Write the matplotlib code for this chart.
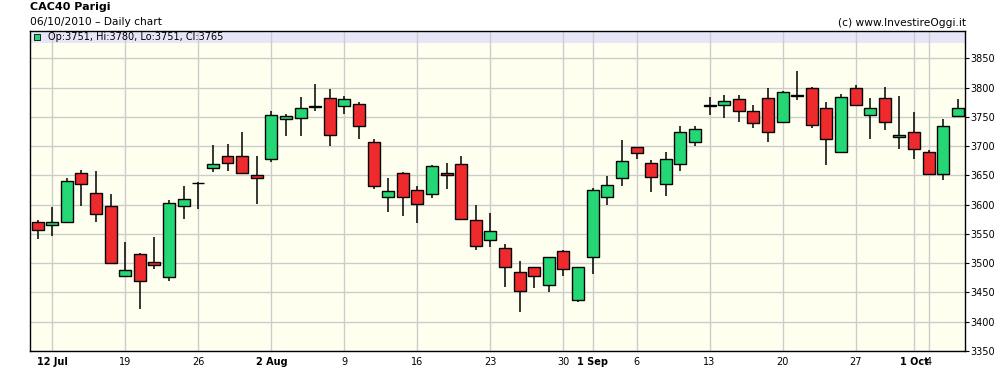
import matplotlib.pyplot as plt
import numpy as np
import pandas as pd

# trading days shown on the chart
dates = pd.bdate_range('2010-07-09', '2010-10-06')

opens = [3570, 3565, 3570, 3655, 3620, 3597, 3478, 3515, 3502, 3476, 3597, 3637,
         3663, 3683, 3683, 3650, 3679, 3747, 3749, 3767, 3783, 3768, 3773, 3708,
         3614, 3654, 3625, 3618, 3654, 3669, 3574, 3539, 3526, 3485, 3493, 3463,
         3521, 3437, 3510, 3613, 3645, 3698, 3672, 3635, 3669, 3707, 3769, 3770,
         3780, 3761, 3782, 3741, 3786, 3800, 3766, 3691, 3800, 3754, 3783, 3715,
         3725, 3691, 3652, 3751]
highs = [3574, 3596, 3645, 3659, 3658, 3618, 3537, 3517, 3545, 3608, 3632, 3639,
         3702, 3704, 3724, 3683, 3760, 3755, 3784, 3806, 3798, 3786, 3776, 3712,
         3646, 3656, 3632, 3668, 3671, 3683, 3600, 3586, 3533, 3504, 3494, 3511,
         3523, 3494, 3628, 3649, 3711, 3699, 3676, 3690, 3734, 3734, 3785, 3787,
         3787, 3770, 3799, 3795, 3828, 3801, 3775, 3790, 3804, 3783, 3802, 3786,
         3758, 3694, 3746, 3780]
lows = [3542, 3547, 3569, 3598, 3571, 3499, 3477, 3421, 3491, 3470, 3576, 3592,
        3656, 3658, 3655, 3602, 3673, 3718, 3718, 3761, 3701, 3755, 3713, 3627,
        3587, 3580, 3569, 3612, 3627, 3574, 3523, 3527, 3460, 3416, 3457, 3451,
        3479, 3434, 3481, 3600, 3632, 3678, 3622, 3615, 3658, 3700, 3754, 3749,
        3741, 3732, 3708, 3740, 3779, 3731, 3668, 3690, 3768, 3713, 3728, 3696,
        3678, 3651, 3642, 3751]
closes = [3557, 3570, 3640, 3635, 3584, 3501, 3488, 3470, 3497, 3603, 3609, 3638,
          3669, 3672, 3655, 3645, 3754, 3751, 3765, 3768, 3719, 3780, 3734, 3632,
          3623, 3613, 3601, 3666, 3650, 3575, 3530, 3555, 3493, 3452, 3478, 3510,
          3490, 3493, 3626, 3633, 3674, 3688, 3647, 3679, 3725, 3729, 3770, 3778,
          3760, 3739, 3725, 3792, 3787, 3737, 3713, 3785, 3770, 3765, 3741, 3719,
          3695, 3652, 3735, 3765]

green = '#24D674'
red = '#EF2A2C'

o = np.array(opens)
c = np.array(closes)
x = np.arange(len(dates))

fig = plt.figure(figsize=(10, 3.86), dpi=100)
ax = fig.add_axes([0.0303, 0.0907, 0.9349, 0.829])
ax.set_facecolor('#FFFFF0')

ax.axhspan(3876, 3900, color='#E6E6F8', zorder=0, lw=0)

ax.vlines(x, lows, highs, color='black', lw=1.1, zorder=2)
cols = [green if cc >= oo else red for oo, cc in zip(o, c)]
ax.bar(x, np.maximum(np.abs(c - o), 0.8), bottom=np.minimum(o, c), width=0.82,
       color=cols, edgecolor='black', linewidth=1.0, zorder=3)

# x ticks: mondays and first day of each month
ticks, labels, bold = [], [], []
seen = set()
for i, d in enumerate(dates):
    if i == 0:
        continue
    if d.weekday() == 0 or d.day == 1:
        ticks.append(i)
        if d.month not in seen:
            labels.append(f"{d.day} {d.strftime('%b')}")
            bold.append(True)
            seen.add(d.month)
        else:
            labels.append(str(d.day))
            bold.append(False)
ax.set_xticks(ticks)
ax.set_xticklabels(labels)
for t, b in zip(ax.get_xticklabels(), bold):
    if b:
        t.set_fontweight('bold')

ax.set_xlim(-0.5, len(dates) - 0.5)
ax.set_ylim(3350, 3897)
ax.set_yticks(np.arange(3350, 3851, 50))
ax.yaxis.tick_right()
ax.tick_params(axis='y', direction='out', length=3, labelsize=7, pad=1)
ax.tick_params(axis='x', length=0, labelsize=7, pad=4)
ax.grid(color='#CCCCCC', lw=1, zorder=1)
ax.set_axisbelow(True)
for s in ax.spines.values():
    s.set_linewidth(1)

ax.plot([0.007], [0.9797], marker='s', ms=4, mfc=green, mec='black', mew=0.6,
        transform=ax.transAxes, clip_on=False, zorder=5)
ax.text(0.0186, 0.9797, f"Op:{opens[-1]}, Hi:{highs[-1]}, Lo:{lows[-1]}, Cl:{closes[-1]}",
        transform=ax.transAxes, va='center', ha='left', fontsize=7)

fig.text(0.03, 0.982, 'CAC40 Parigi', fontsize=8, fontweight='bold', va='center')
fig.text(0.03, 0.943, '06/10/2010 \u2013 Daily chart', fontsize=7.7, va='center')
fig.text(0.9657, 0.940, '(c) www.InvestireOggi.it', fontsize=7.7, va='center', ha='right')

fig.savefig('out.png', dpi=100)
